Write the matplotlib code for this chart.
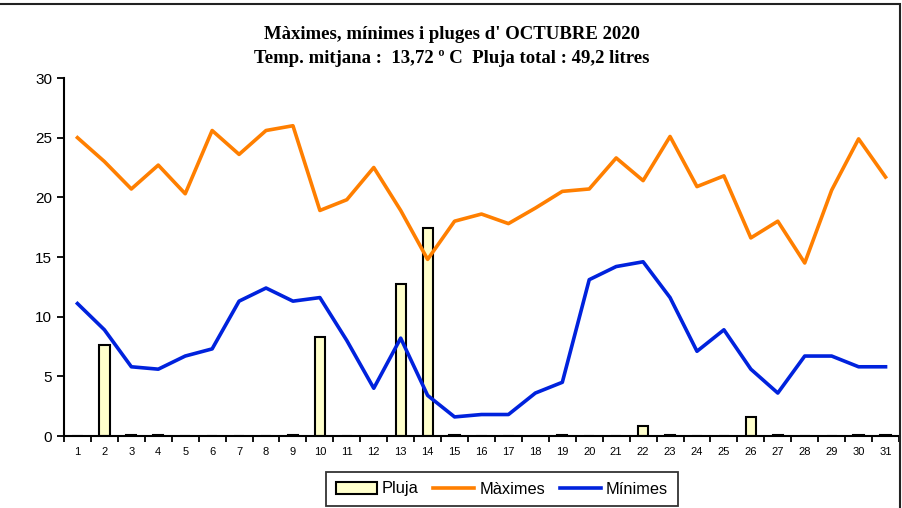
import matplotlib.pyplot as plt
from matplotlib.patches import Rectangle

days = list(range(1, 32))
maximes = [25.0, 23.0, 20.7, 22.7, 20.3, 25.6, 23.6, 25.6, 26.0, 18.9,
           19.8, 22.5, 18.9, 14.8, 18.0, 18.6, 17.8, 19.1, 20.5, 20.7,
           23.3, 21.4, 25.1, 20.9, 21.8, 16.6, 18.0, 14.5, 20.6, 24.9, 21.7]
minimes = [11.1, 8.9, 5.8, 5.6, 6.7, 7.3, 11.3, 12.4, 11.3, 11.6,
           8.0, 4.0, 8.2, 3.4, 1.6, 1.8, 1.8, 3.6, 4.5, 13.1,
           14.2, 14.6, 11.6, 7.1, 8.9, 5.6, 3.6, 6.7, 6.7, 5.8, 5.8]
pluja = [0, 7.6, 0.1, 0.1, 0, 0, 0, 0, 0.1, 8.3,
         0, 0, 12.7, 17.4, 0.1, 0, 0, 0, 0.1, 0,
         0, 0.8, 0.1, 0, 0, 1.6, 0.1, 0, 0, 0.1, 0.1]

titol = "Màximes, mínimes i pluges d' OCTUBRE 2020\nTemp. mitjana :  13,72 º C  Pluja total : 49,2 litres"

plt.rcParams['font.family'] = ['Liberation Sans', 'DejaVu Sans']

fig = plt.figure(figsize=(9.03, 5.08), dpi=100)
ax = fig.add_axes([64 / 903, 1 - 436 / 508, 835 / 903, 358 / 508])

barres = ax.bar(days, pluja, width=0.38, color='#FFFFCC', edgecolor='black',
                linewidth=1.5, label='Pluja', zorder=2)
l_max, = ax.plot(days, maximes, color='#FF7F00', linewidth=2.6, label='Màximes', zorder=3)
l_min, = ax.plot(days, minimes, color='#0022DD', linewidth=2.6, label='Mínimes', zorder=3)

ax.set_xlim(0.5, 31.5)
ax.set_ylim(0, 30)
ax.set_yticks(range(0, 31, 5))
ax.set_xticks(days)
ax.set_xticklabels([str(d) for d in days], fontsize=8)
ax.set_xticks([d + 0.5 for d in range(0, 32)], minor=True)
ax.tick_params(axis='x', which='major', length=0, pad=8)
ax.tick_params(axis='x', which='minor', length=4, width=1.3, direction='out')
ax.tick_params(axis='y', labelsize=11, length=5, width=1.3, direction='out')
for s in ['top', 'right']:
    ax.spines[s].set_visible(False)
for s in ['left', 'bottom']:
    ax.spines[s].set_linewidth(1.5)

fig.text(0.5, 1 - 46.5 / 508, titol, ha='center', va='center',
         fontsize=13.5, fontweight='bold', family='Liberation Serif',
         linespacing=1.5)

leg = fig.legend([barres, l_max, l_min], ['Pluja', 'Màximes', 'Mínimes'],
                 loc='center', bbox_to_anchor=(502 / 903, 1 - 489 / 508),
                 ncol=3, fontsize=11.8, frameon=True, fancybox=False,
                 edgecolor='black', handlelength=2.5, handletextpad=0.3,
                 columnspacing=0.9, borderpad=0.6, borderaxespad=0)
leg.get_frame().set_linewidth(1.3)

fig.add_artist(Rectangle((-0.01, -0.01), 900 / 903 + 0.01, 1 - 4 / 508 + 0.01,
                         transform=fig.transFigure, fill=False,
                         edgecolor='#222222', linewidth=1.5))

fig.savefig('out.png', dpi=100)
